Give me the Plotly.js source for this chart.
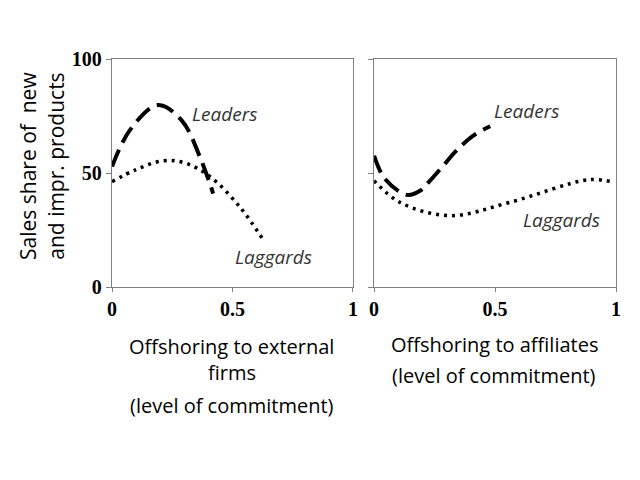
<!DOCTYPE html>
<html><head><meta charset="utf-8">
<script src="https://cdn.plot.ly/plotly-3.0.1.min.js"></script>
<style>body{margin:0;background:#fff}#c{width:640px;height:480px}</style>
</head><body><div id="c"></div>
<script>
// Left panel: offshoring to external firms
const extLeadersX = [0, 0.075, 0.19, 0.29, 0.365, 0.42];
const extLeadersY = [52.8, 68.9, 79.8, 73, 57, 41];
const extLaggardsX = [0, 0.1, 0.213, 0.3, 0.407, 0.53, 0.628];
const extLaggardsY = [46.2, 51.5, 55.4, 54.5, 48.4, 35.2, 20.6];
// Right panel: offshoring to affiliates
const affLeadersX = [0, 0.045, 0.135, 0.19, 0.225, 0.286, 0.34, 0.41, 0.48];
const affLeadersY = [57.6, 47.4, 40.4, 42.2, 45.9, 53.2, 59.8, 66.4, 70.5];
const affLaggardsX = [0, 0.107, 0.314, 0.56, 0.89, 0.99];
const affLaggardsY = [46.6, 37.1, 31.3, 37.1, 47.1, 45.9];
const xTickVals = [0, 0.5, 1];
const xTickText = ['0', '0.5', '1'];
const yTickVals = [0, 50, 100];
const yTickText = ['0', '50', '100'];
const seriesNames = ['Leaders', 'Laggards'];
const yTitleLines = ['Sales share of&nbsp; new', 'and impr. products'];
const extTitleLines = ['Offshoring to external', 'firms', '(level of commitment)'];
const affTitleLines = ['Offshoring to affiliates', '(level of commitment)'];

const dashLead = {color: '#000', width: 4, dash: '18px,8px', shape: 'spline'};
const dotLag = {color: '#000', width: 3.5, dash: '3px,5px', shape: 'spline'};

const traces = [
  {x: extLeadersX, y: extLeadersY, xaxis: 'x', yaxis: 'y', mode: 'lines', line: dashLead, name: seriesNames[0]},
  {x: extLaggardsX, y: extLaggardsY, xaxis: 'x', yaxis: 'y', mode: 'lines', line: dotLag, name: seriesNames[1]},
  {x: affLeadersX, y: affLeadersY, xaxis: 'x2', yaxis: 'y2', mode: 'lines', line: dashLead, name: seriesNames[0]},
  {x: affLaggardsX, y: affLaggardsY, xaxis: 'x2', yaxis: 'y2', mode: 'lines', line: dotLag, name: seriesNames[1]}
];
const tickFont = {family: 'Liberation Serif', size: 20, color: '#000', weight: 'bold'};
const axLine = '#808080';
function xa(domain, anchor) {
  return {domain: domain, anchor: anchor, range: [0, 1], tickvals: xTickVals, ticktext: xTickText,
    showgrid: false, zeroline: false, showline: true, mirror: true, linecolor: axLine, linewidth: 1.3,
    ticks: 'outside', ticklen: 4, tickcolor: axLine, tickfont: tickFont};
}
function ya(anchor, showLabels) {
  return {anchor: anchor, domain: [0, 1], range: [0, 100], tickvals: yTickVals, ticktext: yTickText,
    showticklabels: showLabels, showgrid: false, zeroline: false, showline: true, mirror: true,
    linecolor: axLine, linewidth: 1.3, ticks: 'outside', ticklen: 5, tickcolor: axLine, tickfont: tickFont};
}
const labFont = {family: 'Open Sans', size: 19, color: '#333', style: 'italic'};
const titleFont = {family: 'Open Sans', size: 20, color: '#000'};
const yTitleFont = {family: 'Open Sans', size: 21, color: '#000'};
const ann = [
  {xref: 'x', yref: 'y', x: 0.465, y: 76, text: seriesNames[0], showarrow: false, font: labFont},
  {xref: 'x', yref: 'y', x: 0.67, y: 13, text: seriesNames[1], showarrow: false, font: labFont},
  {xref: 'x2', yref: 'y2', x: 0.63, y: 77, text: seriesNames[0], showarrow: false, font: labFont},
  {xref: 'x2', yref: 'y2', x: 0.775, y: 29.5, text: seriesNames[1], showarrow: false, font: labFont}
];
const extY = [-0.263, -0.377, -0.518];
extTitleLines.forEach((t, i) => ann.push({xref: 'paper', yref: 'paper', x: 0.238, y: extY[i], xanchor: 'center', yanchor: 'middle', text: t, showarrow: false, font: titleFont}));
const affY = [-0.254, -0.386];
affTitleLines.forEach((t, i) => ann.push({xref: 'paper', yref: 'paper', x: 0.758, y: affY[i], xanchor: 'center', yanchor: 'middle', text: t, showarrow: false, font: titleFont}));
const yX = [-0.167, -0.11];
yTitleLines.forEach((t, i) => ann.push({xref: 'paper', yref: 'paper', x: yX[i], y: 0.53, xanchor: 'center', yanchor: 'middle', text: t, textangle: -90, showarrow: false, font: yTitleFont}));

const layout = {
  width: 640, height: 480, showlegend: false,
  paper_bgcolor: '#fff', plot_bgcolor: '#fff',
  margin: {l: 112, r: 24, t: 59, b: 193},
  xaxis: xa([0, 0.478], 'y'),
  yaxis: ya('x', true),
  xaxis2: xa([0.52, 1], 'y2'),
  yaxis2: ya('x2', false),
  annotations: ann
};
Plotly.newPlot('c', traces, layout, {displayModeBar: false, staticPlot: true});
</script>
</body></html>
